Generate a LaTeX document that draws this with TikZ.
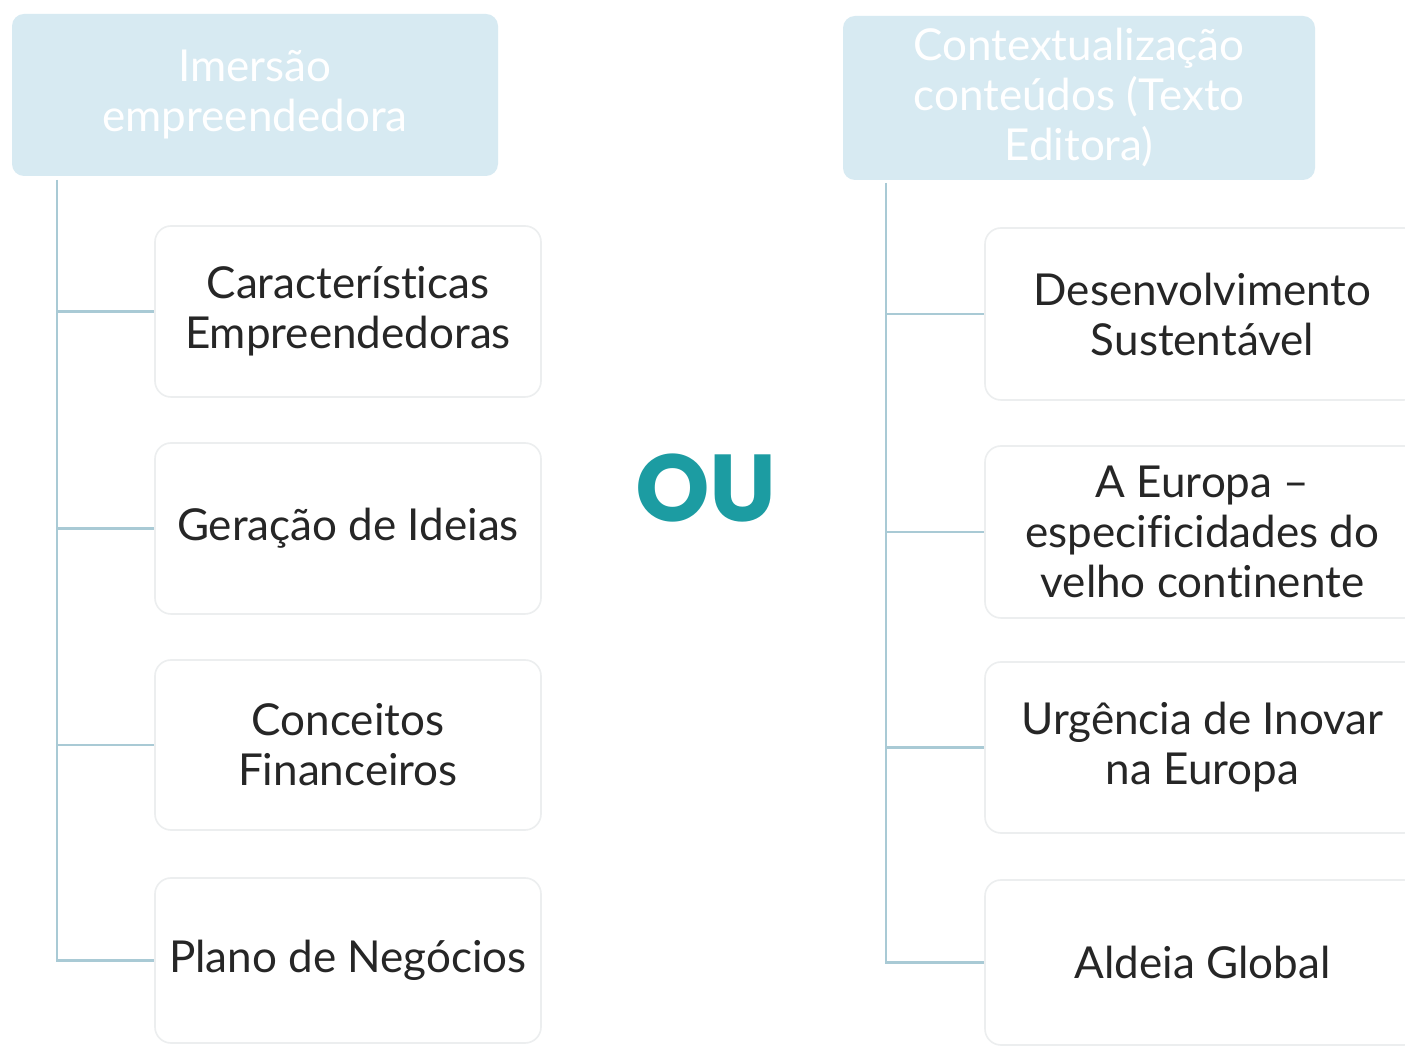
\documentclass[tikz,border=0pt]{standalone}
\usepackage{fontspec}
\setmainfont{Lato}[Ligatures=NoCommon]
\newfontfamily\oufont{Poppins}[UprightFont=* Bold]
\definecolor{hdrblue}{HTML}{D7EAF2}
\definecolor{linecol}{HTML}{A9CAD5}
\definecolor{boxgray}{HTML}{ECEEEF}
\definecolor{txtdark}{HTML}{262626}
\definecolor{teal}{HTML}{1C9CA2}
\begin{document}
\begin{tikzpicture}[x=0.5pt,y=-0.5pt,
  hdr/.style={rounded corners=6pt,fill=hdrblue,text=white,align=center,
    font=\fontsize{22}{25}\selectfont,inner sep=0pt},
  child/.style={rounded corners=8pt,draw=boxgray,line width=0.8pt,fill=white,
    align=center,text=txtdark,font=\fontsize{22}{25}\selectfont,inner sep=0pt},
  conn/.style={draw=linecol,line width=1.3pt}]
\useasboundingbox (0,0) rectangle (1405,1047);
\fill[white] (0,0) rectangle (1405,1047);
% headers
\node[hdr,minimum width=243pt,minimum height=81pt] (L) at (255,95) {Imersão\\empreendedora};
\node[hdr,minimum width=236pt,minimum height=82pt] (R) at (1079,98) {Contextualização\\conteúdos (Texto\\Editora)};
% left children
\node[child,minimum width=193pt,minimum height=85.5pt] (l1) at (348,311.5) {Características\\Empreendedoras};
\node[child,minimum width=193pt,minimum height=85.5pt] (l2) at (348,528.5) {Geração de Ideias};
\node[child,minimum width=193pt,minimum height=85pt] (l3) at (348,745) {Conceitos\\Financeiros};
\node[child,minimum width=193pt,minimum height=82.5pt] (l4) at (348,960.5) {Plano de Negócios};
% right children
\node[child,minimum width=217.5pt,minimum height=86pt] (r1) at (1202.5,314) {Desenvolvimento\\Sustentável};
\node[child,minimum width=217.5pt,minimum height=86pt] (r2) at (1202.5,532) {A Europa –\\especificidades do\\velho continente};
\node[child,minimum width=217.5pt,minimum height=85.5pt] (r3) at (1202.5,747.5) {Urgência de Inovar\\na Europa};
\node[child,minimum width=217.5pt,minimum height=82.5pt] (r4) at (1202.5,962.5) {Aldeia Global};
% OU
\node[text=teal,font=\oufont\fontsize{47.5}{47.5}\selectfont,inner sep=0pt] (ou) at (706,488) {OU};
% connectors left
\coordinate (lt) at (57,180);
\draw[conn] (lt) |- (l4.west);
\draw[conn] (lt |- l1.west) -- (l1.west);
\draw[conn] (lt |- l2.west) -- (l2.west);
\draw[conn] (lt |- l3.west) -- (l3.west);
% connectors right
\coordinate (rt) at (886,183);
\draw[conn] (rt) |- (r4.west);
\draw[conn] (rt |- r1.west) -- (r1.west);
\draw[conn] (rt |- r2.west) -- (r2.west);
\draw[conn] (rt |- r3.west) -- (r3.west);
\end{tikzpicture}
\end{document}
